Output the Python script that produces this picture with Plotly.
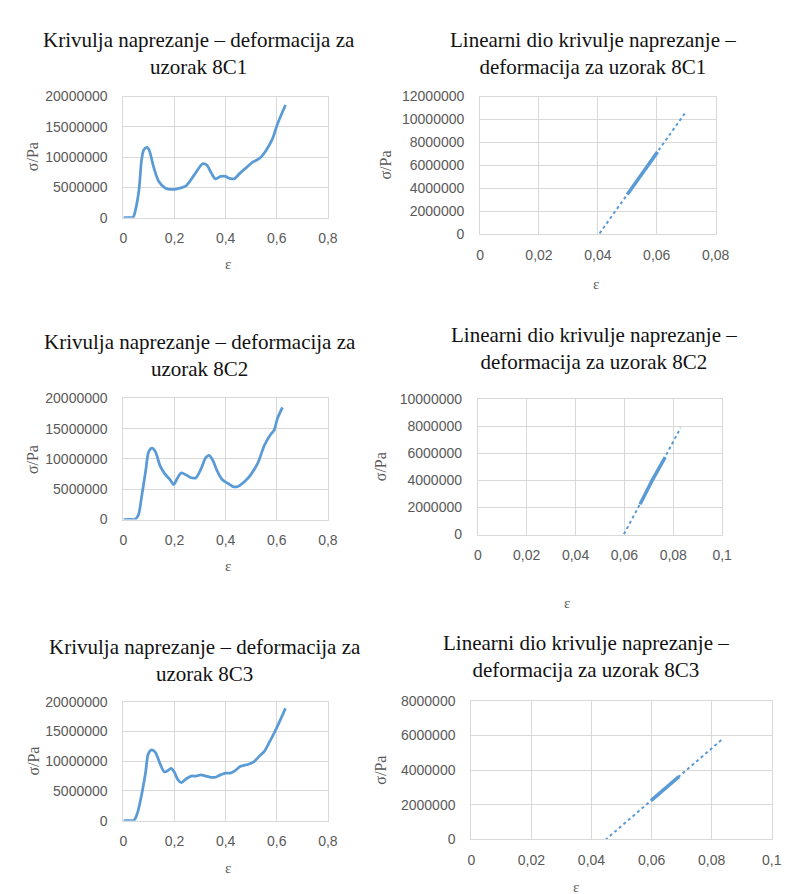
import numpy as np
import plotly.graph_objects as go

W, H = 790, 894

# ---------------- data ----------------
eps_8C1 = [0, 0.020, 0.038, 0.048, 0.061, 0.071, 0.080, 0.093, 0.102, 0.118, 0.138, 0.163, 0.189,
           0.214, 0.246, 0.278, 0.310, 0.326, 0.344, 0.360, 0.380, 0.399, 0.415, 0.433, 0.456,
           0.482, 0.507, 0.533, 0.558, 0.583, 0.603, 0.634]
sig_8C1 = [0, 0.02e6, 0.1e6, 1.4e6, 4.6e6, 9.5e6, 11.2e6, 11.6e6, 11.0e6, 8.4e6, 6.0e6, 4.9e6, 4.65e6,
           4.8e6, 5.3e6, 7.1e6, 8.9e6, 8.7e6, 7.35e6, 6.4e6, 6.8e6, 6.8e6, 6.5e6, 6.4e6, 7.35e6,
           8.3e6, 9.2e6, 9.8e6, 11.1e6, 13.0e6, 15.5e6, 18.6e6]

eps_8C2 = [0, 0.025, 0.046, 0.059, 0.071, 0.087, 0.099, 0.112, 0.125, 0.144, 0.163, 0.182, 0.197,
           0.212, 0.227, 0.246, 0.265, 0.284, 0.303, 0.322, 0.335, 0.348, 0.367, 0.386, 0.411,
           0.431, 0.450, 0.475, 0.500, 0.526, 0.552, 0.577, 0.590, 0.602, 0.622]
sig_8C2 = [0, 0.02e6, 0.05e6, 0.8e6, 3.7e6, 8.0e6, 11.2e6, 11.8e6, 11.2e6, 8.8e6, 7.5e6, 6.6e6, 5.8e6,
           6.9e6, 7.7e6, 7.35e6, 6.9e6, 6.9e6, 8.3e6, 10.2e6, 10.6e6, 9.9e6, 8.0e6, 6.6e6, 5.9e6,
           5.4e6, 5.5e6, 6.3e6, 7.5e6, 9.35e6, 12.3e6, 14.1e6, 14.8e6, 16.6e6, 18.5e6]

eps_8C3 = [0, 0.022, 0.042, 0.055, 0.071, 0.087, 0.097, 0.110, 0.125, 0.144, 0.160, 0.173, 0.186,
           0.199, 0.214, 0.227, 0.246, 0.265, 0.284, 0.303, 0.322, 0.341, 0.360, 0.380, 0.399,
           0.418, 0.437, 0.456, 0.482, 0.507, 0.533, 0.552, 0.571, 0.596, 0.634]
sig_8C3 = [0, 0.02e6, 0.1e6, 1.3e6, 4.3e6, 8.2e6, 11.2e6, 11.9e6, 11.5e6, 9.5e6, 8.2e6, 8.4e6, 8.8e6,
           8.2e6, 6.8e6, 6.4e6, 7.05e6, 7.5e6, 7.5e6, 7.7e6, 7.5e6, 7.3e6, 7.3e6, 7.7e6, 8.0e6,
           8.0e6, 8.4e6, 9.1e6, 9.4e6, 9.8e6, 10.9e6, 11.7e6, 13.2e6, 15.3e6, 18.9e6]

# linear (elastic) parts
lin_eps_8C1 = [0.0500, 0.0550, 0.0603]
lin_sig_8C1 = [3.46e6, 5.32e6, 7.18e6]
lin_eps_8C2 = [0.0664, 0.0713, 0.0767]
lin_sig_8C2 = [2.23e6, 3.98e6, 5.72e6]
lin_eps_8C3 = [0.0598, 0.0645, 0.0691]
lin_sig_8C3 = [2.23e6, 2.95e6, 3.62e6]

# extent of the linear trendlines (strain)
trend_eps_8C1 = [0.0406, 0.0698]
trend_eps_8C2 = [0.0598, 0.0830]
trend_eps_8C3 = [0.0446, 0.0836]

samples = ["8C1", "8C2", "8C3"]
full_titles = ["Krivulja naprezanje – deformacija za<br>uzorak " + s for s in samples]
lin_titles = ["Linearni dio krivulje naprezanje –<br>deformacija za uzorak " + s for s in samples]
y_label = "σ/Pa"
x_label = "ε"

full_x_range = [0, 0.8]
full_x_dtick = 0.2
full_y_range = [0, 2e7]
full_y_dtick = 5e6
lin_x_ranges = [[0, 0.08], [0, 0.1], [0, 0.1]]
lin_x_dtick = 0.02
lin_y_ranges = [[0, 1.2e7], [0, 1e7], [0, 8e6]]
lin_y_dtick = 2e6

# ---------------- layout geometry (pixels) ----------------
# (left, top, right, bottom) of each plot area
boxes = [
    (114, 82, 323.3, 205.3),
    (479, 82, 720, 222.3),
    (114, 389.3, 323.3, 512.7),
    (476.7, 390, 726.7, 528),
    (114, 698.3, 323.3, 819.3),
    (470, 697.3, 777.5, 838.3),
]
title_pos = [(191, 38.5), (595, 38), (192, 345.5), (596, 339), (197, 656.5), (587, 652.5)]
ylab_pos = [(21.7, 143.5), (382, 152), (21.7, 452), (377, 459), (21.7, 759), (377, 768)]
xlab_pos = [(220.7, 253), (598, 273), (220.7, 560), (568, 598), (220.7, 868), (577, 887)]

def px(x):
    return x / W

def py(y):
    return 1 - y / H

BLUE = "#5b9bd5"
GRID = "#d9d9d9"
TICK = "#595959"
SANS = "Liberation Sans, Arial, sans-serif"
SERIF = "Liberation Serif, Times New Roman, serif"

fig = go.Figure()

eps_full = [eps_8C1, eps_8C2, eps_8C3]
sig_full = [sig_8C1, sig_8C2, sig_8C3]
lin_eps = [lin_eps_8C1, lin_eps_8C2, lin_eps_8C3]
lin_sig = [lin_sig_8C1, lin_sig_8C2, lin_sig_8C3]
trend_eps = [trend_eps_8C1, trend_eps_8C2, trend_eps_8C3]

layout = dict(
    width=W, height=H,
    margin=dict(l=0, r=0, t=0, b=0),
    paper_bgcolor="white", plot_bgcolor="white",
    showlegend=False,
    separators=", ",
)

annotations = []
for i in range(3):
    # full curve panel (left column)
    k = 2 * i + 1
    xa = "x" if k == 1 else f"x{k}"
    ya = "y" if k == 1 else f"y{k}"
    fig.add_trace(go.Scatter(
        x=eps_full[i], y=sig_full[i], mode="lines",
        line=dict(color=BLUE, width=2.75, shape="spline", smoothing=0.8),
        xaxis=xa, yaxis=ya, name=samples[i]))
    # linear panel (right column)
    k2 = 2 * i + 2
    xa2 = f"x{k2}"
    ya2 = f"y{k2}"
    slope, intercept = np.polyfit(lin_eps[i], lin_sig[i], 1)
    tx = np.array(trend_eps[i])
    fig.add_trace(go.Scatter(
        x=tx, y=slope * tx + intercept, mode="lines",
        line=dict(color=BLUE, width=2, dash="dot"),
        xaxis=xa2, yaxis=ya2, name="Linear trend " + samples[i]))
    fig.add_trace(go.Scatter(
        x=lin_eps[i], y=lin_sig[i], mode="lines",
        line=dict(color=BLUE, width=3.5),
        xaxis=xa2, yaxis=ya2, name="Linear " + samples[i]))

for k in range(1, 7):
    l, t, r, b = boxes[k - 1]
    left_col = (k % 2 == 1)
    row = (k - 1) // 2
    if left_col:
        xr, xd, yr, yd = full_x_range, full_x_dtick, full_y_range, full_y_dtick
    else:
        xr, xd, yr, yd = lin_x_ranges[row], lin_x_dtick, lin_y_ranges[row], lin_y_dtick
    xkey = "xaxis" if k == 1 else f"xaxis{k}"
    ykey = "yaxis" if k == 1 else f"yaxis{k}"
    xanchor = "y" if k == 1 else f"y{k}"
    yanchor = "x" if k == 1 else f"x{k}"
    common = dict(showgrid=True, gridcolor=GRID, gridwidth=1,
                  zeroline=True, zerolinecolor=GRID, zerolinewidth=1,
                  showline=True, linecolor=GRID, linewidth=1, mirror=True,
                  ticks="", tickfont=dict(family=SANS, size=14, color=TICK))
    layout[xkey] = dict(domain=[px(l), px(r)], range=xr, dtick=xd, tick0=0,
                        anchor=xanchor, ticklabelstandoff=8, **common)
    layout[ykey] = dict(domain=[py(b), py(t)], range=yr, dtick=yd, tick0=0,
                        anchor=yanchor, tickformat="d", ticklabelstandoff=12, **common)

    tx_, ty_ = title_pos[k - 1]
    ttl = full_titles[row] if left_col else lin_titles[row]
    annotations.append(dict(text=ttl, x=px(tx_), y=py(ty_), xref="paper", yref="paper",
                            xanchor="center", yanchor="middle", showarrow=False, align="center",
                            font=dict(family=SERIF, size=21, color="#111111")))
    yx, yy = ylab_pos[k - 1]
    annotations.append(dict(text=y_label, x=px(yx), y=py(yy), xref="paper", yref="paper",
                            xanchor="center", yanchor="middle", showarrow=False, textangle=-90,
                            font=dict(family=SERIF, size=16, color=TICK)))
    xx, xy = xlab_pos[k - 1]
    annotations.append(dict(text=x_label, x=px(xx), y=py(xy), xref="paper", yref="paper",
                            xanchor="center", yanchor="middle", showarrow=False,
                            font=dict(family=SERIF, size=15, color=TICK)))

layout["annotations"] = annotations
fig.update_layout(**layout)
fig.write_html("out.html")
